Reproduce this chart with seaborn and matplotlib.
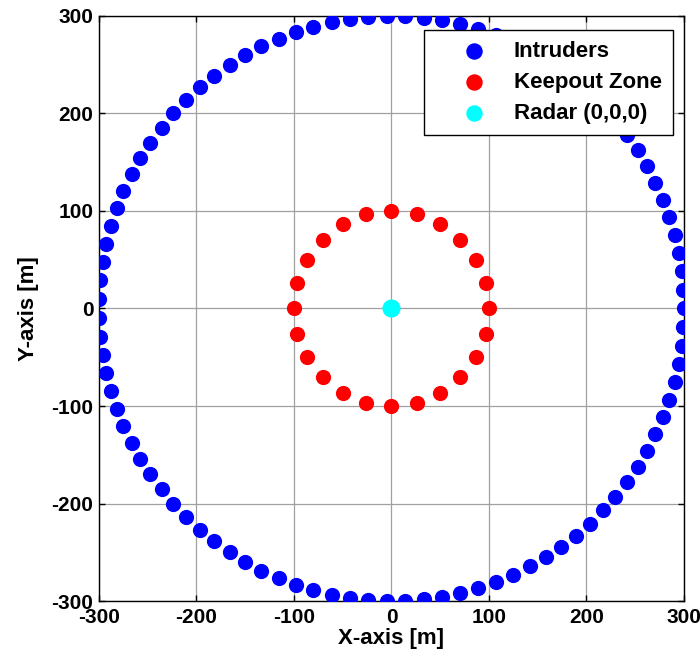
import numpy as np
import pandas as pd
import matplotlib
matplotlib.use("Agg")
import matplotlib.pyplot as plt
import seaborn as sns

# ---- data ----
intruder_radius = 300
intruder_angles_deg = [
    0.0, 3.6, 7.3, 10.9, 14.5, 18.2, 21.8, 25.5, 29.1, 32.7, 36.4,
    40.0, 43.6, 47.3, 50.9, 54.5, 58.2, 61.8, 65.5, 69.1, 72.7, 76.4,
    80.0, 83.6, 87.3, 90.9, 94.5, 98.2, 101.8, 105.5, 109.1, 112.7, 116.4,
    120.0, 123.6, 127.3, 130.9, 134.5, 138.2, 141.8, 145.5, 149.1, 152.7, 156.4,
    160.0, 163.6, 167.3, 170.9, 174.5, 178.2, 181.8, 185.5, 189.1, 192.7, 196.4,
    200.0, 203.6, 207.3, 210.9, 214.5, 218.2, 221.8, 225.5, 229.1, 232.7, 236.4,
    240.0, 243.6, 247.3, 250.9, 254.5, 258.2, 261.8, 265.5, 269.1, 272.7, 276.4,
    280.0, 283.6, 287.3, 290.9, 294.5, 298.2, 301.8, 305.5, 309.1, 312.7, 316.4,
    320.0, 323.6, 327.3, 330.9, 334.5, 338.2, 341.8, 345.5, 349.1, 352.7, 356.4,
]
keepout_radius = 100
keepout_angles_deg = [0, 15, 30, 45, 60, 75, 90, 105, 120, 135, 150, 165,
                      180, 195, 210, 225, 240, 255, 270, 285, 300, 315, 330, 345]
radar_x = [0]
radar_y = [0]
labels = ["Intruders", "Keepout Zone", "Radar (0,0,0)"]
colors = ["#0000ff", "#ff0000", "#00ffff"]
ticks = [-300, -200, -100, 0, 100, 200, 300]

# polar -> cartesian
ia = np.deg2rad(intruder_angles_deg)
ka = np.deg2rad(keepout_angles_deg)
df_int = pd.DataFrame({"x": intruder_radius * np.cos(ia), "y": intruder_radius * np.sin(ia)})
df_keep = pd.DataFrame({"x": keepout_radius * np.cos(ka), "y": keepout_radius * np.sin(ka)})
df_rad = pd.DataFrame({"x": radar_x, "y": radar_y})

plt.rcParams["font.family"] = ["Liberation Sans", "DejaVu Sans"]
plt.rcParams["font.weight"] = "bold"

fig = plt.figure(figsize=(7.0, 6.62), dpi=100)
ax = fig.add_axes([0.1414, 0.092, 0.8356, 0.884])

sns.scatterplot(data=df_int, x="x", y="y", color=colors[0], s=120, linewidth=0, ax=ax, label=labels[0], zorder=3)
sns.scatterplot(data=df_keep, x="x", y="y", color=colors[1], s=120, linewidth=0, ax=ax, label=labels[1], zorder=3)
sns.scatterplot(data=df_rad, x="x", y="y", color=colors[2], s=170, linewidth=0, ax=ax, label=labels[2], zorder=3)

ax.set_xlim(-300, 300)
ax.set_ylim(-300, 300)
ax.set_xticks(ticks)
ax.set_yticks(ticks)
ax.set_xticklabels([str(t) for t in ticks], fontsize=15, fontweight="bold")
ax.set_yticklabels([str(t) for t in ticks], fontsize=15, fontweight="bold")
ax.grid(True, color="#a0a0a0", linewidth=0.9, zorder=0)
ax.set_axisbelow(True)
ax.tick_params(direction="in", length=4, width=1, top=True, right=True, colors="black")
ax.tick_params(axis="x", pad=5)
ax.tick_params(axis="y", pad=4)
for sp in ax.spines.values():
    sp.set_color("black")
    sp.set_linewidth(1.0)
ax.set_xlabel("X-axis [m]", fontsize=16, fontweight="bold", labelpad=1)
ax.set_ylabel("Y-axis [m]", fontsize=16, fontweight="bold", labelpad=9)

leg = ax.legend(loc="upper right", bbox_to_anchor=(0.981, 0.976), frameon=True, fancybox=False,
                edgecolor="black", framealpha=1, prop={"size": 16, "weight": "bold"},
                borderpad=0.5, labelspacing=0.44, handlelength=3.5, handletextpad=0.05,
                borderaxespad=0, markerscale=1.0)
leg.get_frame().set_linewidth(1.0)
handles = getattr(leg, "legend_handles", None) or leg.legendHandles
for h in handles:
    h.set_sizes([140])

fig.savefig("out.png", dpi=100)
